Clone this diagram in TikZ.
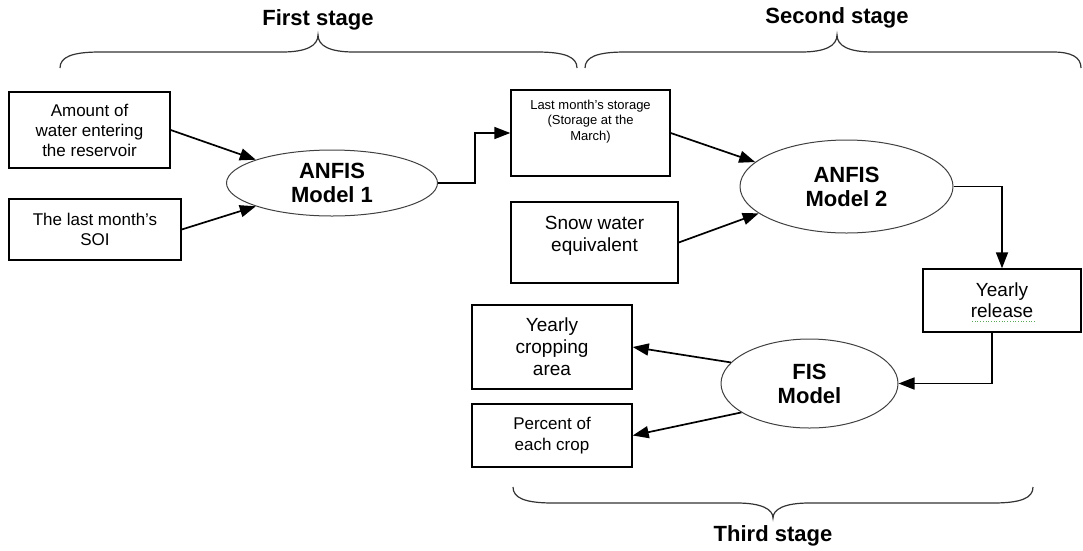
\documentclass[tikz,border=0pt]{standalone}
\usepackage{fontspec}
\setmainfont{Liberation Sans}
\usetikzlibrary{shapes.geometric,arrows.meta}
\definecolor{spellgreen}{RGB}{90,170,90}
\begin{document}
\begin{tikzpicture}[x=1pt, y=-1pt,
		inbox/.style={draw, line width=1.4pt, inner sep=0pt, align=center, font=\fontsize{17}{20}\selectfont},
		model/.style={draw=black!75, ellipse, line width=1pt, inner sep=0pt, align=center, font=\bfseries\fontsize{22}{24}\selectfont},
		flow/.style={line width=1.7pt, -{Triangle[length=16pt, width=12pt]}},
		brace/.style={draw=black!80, line width=1.2pt},
		stage/.style={font=\bfseries\fontsize{22}{24}\selectfont}]
	\useasboundingbox (0,0) rectangle (1083,550);
	% stage braces
	\draw [brace] (60,68) .. controls (60,57) and (72,52) .. (100,52) -- (282,52) .. controls (306,52) and (318,46) .. (318,35) .. controls (318,46) and (330,52) .. (354,52) -- (537,52) .. controls (565,52) and (577,57) .. (577,68);
	\draw [brace] (585,68) .. controls (585,57) and (597,52) .. (625,52) -- (801,52) .. controls (825,52) and (837,46) .. (837,35) .. controls (837,46) and (849,52) .. (873,52) -- (1053,52) .. controls (1071,52) and (1081,57) .. (1081,68);
	\draw [brace] (513,487) .. controls (513,498) and (525,503) .. (553,503) -- (737,503) .. controls (761,503) and (773,509) .. (773,518) .. controls (773,509) and (785,503) .. (809,503) -- (993,503) .. controls (1021,503) and (1033,498) .. (1033,487);
	\node [stage] (first) at (318,20) {First stage};
	\node [stage] (second) at (837,18) {Second stage};
	\node [stage] (third) at (773,536) {Third stage};
	% boxes and models
	\node [inbox, minimum width=161pt, minimum height=76pt] (inflow) at (89.5,130) {Amount of\\water entering\\the reservoir};
	\node [inbox, minimum width=172pt, minimum height=61pt] (soi) at (95,229.5) {The last month's\\SOI};
	\node [model, minimum width=211pt, minimum height=66pt] (anfis1) at (332,183) {ANFIS\\Model 1};
	\node [inbox, font=\fontsize{13}{15.5}\selectfont] (storage) at (590.5,133) {\parbox[c][86pt][t]{159pt}{\centering\vspace*{10pt}Last month's storage\\(Storage at the\\March)}};
	\node [inbox, font=\fontsize{19}{22}\selectfont] (snow) at (594.5,242.5) {\parbox[c][81pt][t]{167pt}{\centering\vspace*{14pt}Snow water\\equivalent}};
	\node [model, minimum width=213pt, minimum height=93pt] (anfis2) at (846.5,186.5) {ANFIS\\Model 2};
	\node [inbox, minimum width=158pt, minimum height=63pt, font=\fontsize{19}{21}\selectfont] (release) at (1002,300.5) {Yearly\\release};
	\draw [spellgreen, dotted, line width=0.7pt] (972,321) -- (1036,321);
	\node [model, minimum width=177pt, minimum height=89pt] (fis) at (809.5,383.5) {FIS\\Model};
	\node [inbox, minimum width=160pt, minimum height=84pt, font=\fontsize{19}{22}\selectfont] (area) at (552,347) {Yearly\\cropping\\area};
	\node [inbox, minimum width=160pt, minimum height=63pt, font=\fontsize{17}{21}\selectfont] (percent) at (552,435.5) {Percent of\\each crop};
	% connectors
	\draw [flow] (inflow.east) -- (anfis1.163);
	\draw [flow] (soi.east) -- (anfis1.197);
	\draw [flow] (anfis1.east) -- ++(37,0) |- (storage.west);
	\draw [flow] (storage.east) -- (anfis2.165);
	\draw [flow] (snow.east) -- (anfis2.197);
	\draw [flow] (anfis2.east) -| (release.north);
	\draw [flow] ([xshift=-10pt]release.south) |- (fis.east);
	\draw [flow] (fis.165) -- (area.east);
	\draw [flow] (fis.203) -- (percent.east);
\end{tikzpicture}
\end{document}
